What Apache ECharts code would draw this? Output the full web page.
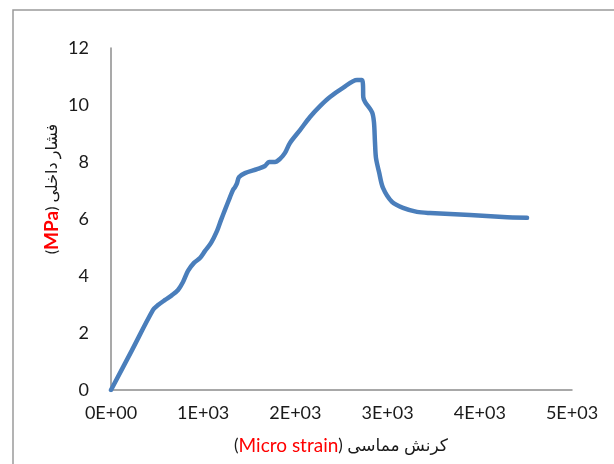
<!DOCTYPE html>
<html><head><meta charset="utf-8">
<script src="https://cdn.jsdelivr.net/npm/echarts@6/dist/echarts.min.js"></script>
<style>html,body{margin:0;padding:0;background:#fff}#c{width:614px;height:464px}</style>
</head><body><div id="c"></div>
<script>
// strain (micro strain) and internal pressure (MPa)
var strain = [0, 228, 456, 510, 586, 662, 727, 781, 835, 900, 965, 1020, 1085, 1150, 1193, 1236, 1291, 1323, 1345, 1367, 1388, 1453, 1584, 1670, 1714, 1779, 1833, 1887, 1941, 2050, 2158, 2267, 2375, 2516, 2668, 2722, 2733, 2736, 2755, 2831, 2852, 2863, 2874, 2907, 2950, 3048, 3167, 3319, 3460, 3894, 4252, 4512];
var pressure = [0, 1.40, 2.81, 2.98, 3.16, 3.33, 3.51, 3.79, 4.18, 4.46, 4.63, 4.88, 5.16, 5.58, 5.96, 6.32, 6.77, 7.02, 7.12, 7.26, 7.47, 7.61, 7.75, 7.86, 8.00, 8.00, 8.11, 8.32, 8.67, 9.12, 9.58, 9.96, 10.28, 10.60, 10.88, 10.88, 10.70, 10.28, 10.11, 9.75, 9.40, 8.70, 8.14, 7.65, 7.09, 6.60, 6.39, 6.25, 6.21, 6.14, 6.07, 6.04];
var xTickValues = [0, 1000, 2000, 3000, 4000, 5000];
var xTickLabels = ['0E+00', '1E+03', '2E+03', '3E+03', '4E+03', '5E+03'];
var yTickLabels = ['0', '2', '4', '6', '8', '10', '12'];

var pts = strain.map(function (s, i) { return [s, pressure[i]]; });
var FONT = 'Lato, "DejaVu Sans", sans-serif';
var chart = echarts.init(document.getElementById('c'));
chart.setOption({
  animation: false,
  backgroundColor: '#fff',
  grid: { left: 111, right: 42, top: 48, bottom: 74, containLabel: false },
  xAxis: {
    type: 'value', min: 0, max: 5000, interval: 1000,
    axisLine: { show: true, lineStyle: { color: '#8c8c8c', width: 1.5 } },
    axisTick: { show: false },
    splitLine: { show: false },
    axisLabel: {
      margin: 14, color: '#1a1a1a', fontSize: 18, fontFamily: FONT,
      formatter: function (v) { var i = xTickValues.indexOf(v); return i >= 0 ? xTickLabels[i] : ''; }
    }
  },
  yAxis: {
    type: 'value', min: 0, max: 12, interval: 2,
    axisLine: { show: true, lineStyle: { color: '#8c8c8c', width: 1.5 } },
    axisTick: { show: false },
    splitLine: { show: false },
    axisLabel: {
      margin: 22, color: '#1a1a1a', fontSize: 18, fontFamily: FONT,
      formatter: function (v) { return yTickLabels[Math.round(v / 2)]; }
    }
  },
  graphic: [
    { type: 'rect', z: -5, shape: { x: 13, y: 10, width: 700, height: 500 },
      style: { fill: 'none', stroke: '#9a9a9a', lineWidth: 1.5 } },
    { type: 'text', x: 341, y: 446, z: 10,
      style: {
        text: '{k|(}{r|Micro strain}{k|) کرنش مماسی}', align: 'center', verticalAlign: 'middle',
        rich: {
          k: { fontSize: 17, fontFamily: FONT, fill: '#1a1a1a' },
          r: { fontSize: 19, fontFamily: FONT, fill: '#ff0000' }
        }
      } },
    { type: 'text', x: 52, y: 189, z: 10, rotation: Math.PI / 2,
      style: {
        text: '{k|(}{r|MPa}{k|) فشار داخلی}', align: 'center', verticalAlign: 'middle',
        rich: {
          k: { fontSize: 16, fontFamily: FONT, fill: '#1a1a1a' },
          r: { fontSize: 19, fontFamily: FONT, fontWeight: 'bold', fill: '#ff0000' }
        }
      } }
  ],
  series: [{
    type: 'line', data: pts, showSymbol: false, symbol: 'none',
    smooth: 0.3,
    lineStyle: { color: '#4a7ebb', width: 4.5, cap: 'round', join: 'round' }
  }]
});
</script></body></html>
